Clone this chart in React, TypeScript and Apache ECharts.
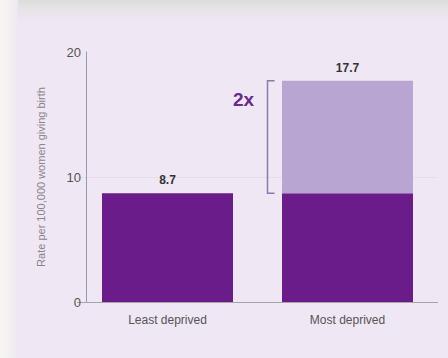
import React, { useEffect, useRef } from "react";
import * as echarts from "echarts";

const categories = ["Least deprived", "Most deprived"];
const rates = [8.7, 17.7];
const baselineRate = 8.7;
const ratioLabel = "2x";
const yTicks = { min: 0, max: 20, interval: 10 };
const yAxisTitle = "Rate per 100,000 women giving birth";

export default function App() {
  const ref = useRef<HTMLDivElement>(null);
  useEffect(() => {
    if (!ref.current) return;
    const chart = echarts.init(ref.current, null, { renderer: "svg" });
    const baseSeries = rates.map((r) => Math.min(r, baselineRate));
    const excessSeries = rates.map((r) => (r > baselineRate ? +(r - baselineRate).toFixed(1) : null));
    chart.setOption({
      animation: false,
      backgroundColor: "#efe7f3",
      graphic: [
        {
          type: "rect",
          left: 0,
          top: 0,
          shape: { width: 448, height: 22 },
          style: {
            fill: new echarts.graphic.LinearGradient(0, 0, 0, 1, [
              { offset: 0, color: "#dcdcdc" },
              { offset: 0.4, color: "#e6e3e6" },
              { offset: 1, color: "#efe7f3" },
            ]),
          },
          z: -10,
        },
        {
          type: "rect",
          left: 0,
          top: 0,
          shape: { width: 18, height: 358 },
          style: {
            fill: new echarts.graphic.LinearGradient(0, 0, 1, 0, [
              { offset: 0, color: "#f7f5f1" },
              { offset: 0.6, color: "#f3eff2" },
              { offset: 1, color: "#efe7f3" },
            ]),
          },
          z: -10,
        },
      ],
      grid: { left: 77.5, right: 10.5, top: 52, bottom: 56, containLabel: false },
      xAxis: {
        type: "category",
        data: categories,
        axisLine: { show: true, lineStyle: { color: "#a9a4ac", width: 1 } },
        axisTick: { show: false },
        axisLabel: { color: "#555", fontSize: 12, margin: 12, fontFamily: "Liberation Sans, Arial, sans-serif" },
      },
      yAxis: {
        type: "value",
        min: yTicks.min,
        max: yTicks.max,
        interval: yTicks.interval,
        offset: -8.5,
        name: yAxisTitle,
        nameLocation: "middle",
        nameRotate: 90,
        nameGap: 40,
        nameTextStyle: { color: "#8a858c", fontSize: 11, fontFamily: "Liberation Sans, Arial, sans-serif" },
        axisLine: { show: true, lineStyle: { color: "#9d98a0", width: 1 } },
        axisTick: { show: false },
        axisLabel: { color: "#555", fontSize: 13, margin: 5, fontFamily: "Liberation Sans, Arial, sans-serif" },
        splitLine: { show: true, lineStyle: { color: ["rgba(0,0,0,0)", "#e5dde9", "rgba(0,0,0,0)"], width: 1 } },
      },
      series: [
        {
          type: "bar",
          stack: "rate",
          data: baseSeries,
          barWidth: 131,
          itemStyle: { color: "#6a1d8a" },
          label: {
            show: true,
            position: "top",
            distance: 7,
            formatter: (p: any) => (rates[p.dataIndex] > baselineRate ? "" : String(rates[p.dataIndex])),
            color: "#333",
            fontSize: 12,
            fontWeight: "bold",
            fontFamily: "Liberation Sans, Arial, sans-serif",
          },
        },
        {
          type: "bar",
          stack: "rate",
          data: excessSeries,
          barWidth: 131,
          itemStyle: { color: "#b9a5d2" },
          label: {
            show: true,
            position: "top",
            distance: 7,
            formatter: (p: any) => String(rates[p.dataIndex]),
            color: "#333",
            fontSize: 12,
            fontWeight: "bold",
            fontFamily: "Liberation Sans, Arial, sans-serif",
          },
        },
        {
          type: "custom",
          data: [[1, baselineRate, rates[1]]],
          encode: { x: 0, y: [1, 2] },
          z: 10,
          renderItem: (params: any, api: any) => {
            const cx = api.coord([api.value(0), 0])[0];
            const yTop = api.coord([api.value(0), api.value(2)])[1];
            const yBot = api.coord([api.value(0), api.value(1)])[1];
            const x = cx - 80;
            return {
              type: "group",
              children: [
                {
                  type: "polyline",
                  shape: { points: [[x + 7, yTop], [x, yTop], [x, yBot], [x + 7, yBot]] },
                  style: { stroke: "#8e78ad", lineWidth: 1.5, fill: null },
                },
                {
                  type: "text",
                  style: {
                    text: ratioLabel,
                    x: x - 24,
                    y: yTop + (yBot - yTop) * 0.17,
                    align: "center",
                    verticalAlign: "middle",
                    fill: "#6a2a8e",
                    fontSize: 19,
                    fontWeight: "bold",
                    fontFamily: "Liberation Sans, Arial, sans-serif",
                  },
                },
              ],
            };
          },
        },
      ],
    });
    return () => chart.dispose();
  }, []);
  return (
    <div
      ref={ref}
      style={{ position: "fixed", left: 0, top: 0, width: 448, height: 358 }}
    />
  );
}
